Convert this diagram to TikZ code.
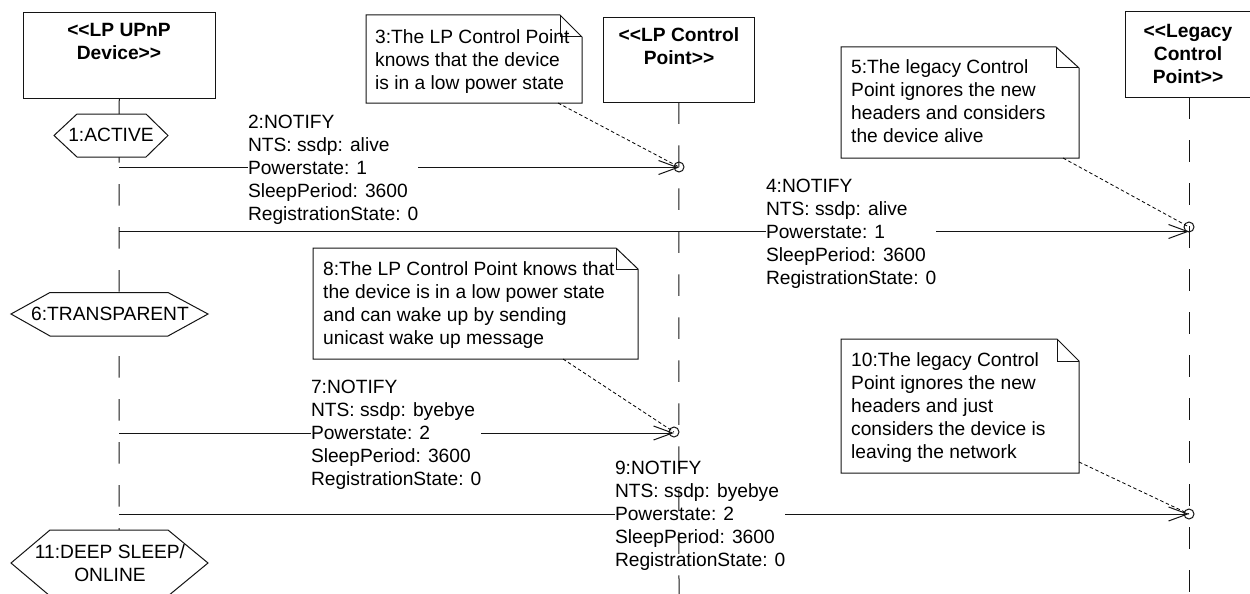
\documentclass[tikz,border=0pt]{standalone}
\usepackage{fontspec}
\setmainfont{Liberation Sans}[Ligatures=NoCommon]
\usetikzlibrary{arrows.meta,calc}
\newcommand{\msgstrut}{\rule{0pt}{17.8pt}}
\newcommand{\oo}{{<}{<}}
\newcommand{\cc}{{>}{>}}
\tikzset{
  ink/.style={draw=black!92,line width=1pt},
  actor/.style={ink,fill=white,rectangle,inner sep=0pt,outer sep=0pt},
  actortext/.style={font=\fontsize{19.2}{23}\selectfont\bfseries,align=center,inner sep=0pt,anchor=north},
  lifeline/.style={ink,dash pattern=on 21.5pt off 21.5pt},
  statebox/.style={ink,fill=white,line join=miter},
  statetext/.style={font=\fontsize{19.2}{23}\selectfont,align=center,inner sep=0pt},
  notebox/.style={ink,fill=white,line join=miter},
  notetext/.style={font=\fontsize{19.2}{23}\selectfont,align=left,inner sep=0pt,anchor=north west},
  msgtext/.style={font=\fontsize{19.2}{23}\selectfont,align=left,inner sep=0pt,outer sep=0pt,anchor=west},
  msg/.style={ink},
  msgarrow/.style={ink,-{Straight Barb[length=19pt,width=14pt,line width=1pt]}},
  anchorcirc/.style={ink,circle,minimum size=10pt,inner sep=0pt,outer sep=0pt},
  notelink/.style={draw=black,line width=0.8pt,dash pattern=on 3.5pt off 2.5pt},
}
\begin{document}
\begin{tikzpicture}[x=1pt,y=-1pt]
\useasboundingbox[fill=white] (0,0) rectangle (1250,594);

% actors
\node[actor,minimum width=191.5pt,minimum height=85pt] (dev) at (119.25,55.5) {};
\node[actor,minimum width=151pt,minimum height=84.5pt] (lp) at (678.75,60) {};
\node[actor,minimum width=128pt,minimum height=85pt] (leg) at (1189,54.5) {};

% lifelines
\coordinate (devend) at (119,531);
\coordinate (lpend) at (679,596);
\coordinate (legend) at (1189,596);
\draw[lifeline] (dev.south) -- (devend);
\draw[lifeline] (lp.south) -- (lpend);
\draw[lifeline] (leg.south) -- (legend);

\node[actortext] (devt) at (119,23) {\oo LP UPnP\\Device\cc};
\node[actortext] (lpt) at (679,27) {\oo LP Control\\Point\cc};
\node[actortext] (legt) at (1188,24) {\oo Legacy\\Control\\Point\cc};

% states
\draw[statebox] (54,135.5)--(77,114)--(146,114)--(168,135.5)--(146,157)--(77,157)--cycle;
\node[statetext] (s1) at (111,135) {1:ACTIVE};
\draw[statebox] (11,314)--(50,292.5)--(168,292.5)--(208,314)--(168,336)--(50,336)--cycle;
\node[statetext] (s6) at (110,314) {6:TRANSPARENT};
\draw[statebox] (11,563)--(50,530)--(168,530)--(208,563)--(168,596)--(50,596)--cycle;
\node[statetext] (s11) at (110,563.5) {11:DEEP SLEEP/\\ONLINE};

% anchors on the receiving lifelines
\node[anchorcirc] (c2) at (679,167) {};
\node[anchorcirc] (c4) at (1189,227) {};
\node[anchorcirc] (c7) at (674,432) {};
\node[anchorcirc] (c9) at (1189,514) {};

% message labels
\node[msgtext] (m2) at (248,167.5) {\msgstrut 2:NOTIFY\\NTS: ssdp: alive\\Powerstate: 1\\SleepPeriod: 3600\\RegistrationState: 0};
\node[msgtext] (m4) at (766,231.5) {\msgstrut 4:NOTIFY\\NTS: ssdp: alive\\Powerstate: 1\\SleepPeriod: 3600\\RegistrationState: 0};
\node[msgtext] (m7) at (311,433) {\msgstrut 7:NOTIFY\\NTS: ssdp: byebye\\Powerstate: 2\\SleepPeriod: 3600\\RegistrationState: 0};
\node[msgtext] (m9) at (615,514) {\msgstrut 9:NOTIFY\\NTS: ssdp: byebye\\Powerstate: 2\\SleepPeriod: 3600\\RegistrationState: 0};

% messages
\draw[msg] (dev.south |- m2.west) -- (m2.west);
\draw[msgarrow] (m2.east) -- (c2.center |- m2.east);
\draw[msg] (dev.south |- m4.west) -- (m4.west);
\draw[msgarrow] (m4.east) -- (c4.center |- m4.east);
\draw[msg] (dev.south |- m7.west) -- (m7.west);
\draw[msgarrow] (m7.east) -- (c7.center |- m7.east);
\draw[msg] (dev.south |- m9.west) -- (m9.west);
\draw[msgarrow] (m9.east) -- (c9.center |- m9.east);

% notes
\draw[notebox] (366,15)--(560,15)--(582,37)--(582,103)--(366,103)--cycle;
\draw[ink] (560,15)--(560,37)--(582,37);
\node[notetext] (n3) at (375,29) {3:The LP Control Point\\knows that the device\\is in a low power state};
\draw[notebox] (841,47)--(1056,47)--(1079,68)--(1079,158)--(841,158)--cycle;
\draw[ink] (1056,47)--(1056,68)--(1079,68);
\node[notetext] (n5) at (851,59) {5:The legacy Control\\Point ignores the new\\headers and considers\\the device alive};
\draw[notebox] (313,248)--(616,248)--(638,269)--(638,359)--(313,359)--cycle;
\draw[ink] (616,248)--(616,269)--(638,269);
\node[notetext] (n8) at (323,261) {8:The LP Control Point knows that\\the device is in a low power state\\and can wake up by sending\\unicast wake up message};
\draw[notebox] (841,339)--(1057,339)--(1079,361)--(1079,473)--(841,473)--cycle;
\draw[ink] (1057,339)--(1057,361)--(1079,361);
\node[notetext] (n10) at (851,352) {10:The legacy Control\\Point ignores the new\\headers and just\\considers the device is\\leaving the network};

% note links
\coordinate (l3) at (558,103);
\coordinate (l5) at (1063,158);
\coordinate (l8) at (563,359);
\coordinate (l10) at (1079,462);
\draw[notelink] (l3) -- (c2.center);
\draw[notelink] (l5) -- (c4.center);
\draw[notelink] (l8) -- (c7.center);
\draw[notelink] (l10) -- (c9.center);
\end{tikzpicture}
\end{document}
